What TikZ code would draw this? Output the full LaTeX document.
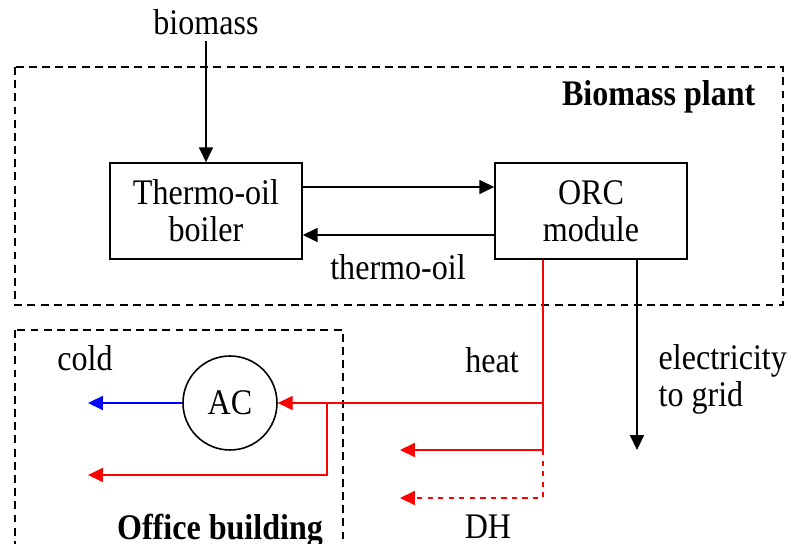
\documentclass[tikz,border=0pt]{standalone}
\usepackage{fontspec}
\setmainfont{Liberation Serif}[FakeStretch=0.89]
\usetikzlibrary{arrows.meta}

\begin{document}
\begin{tikzpicture}[x=0.2mm, y=-0.2mm, >={Triangle[length=8.5pt,width=8pt]}, line width=0.9pt,
  every node/.style={font=\fontsize{20.5}{21}\selectfont},
  unit/.style={draw, minimum width=38.4mm, minimum height=19.2mm, align=center, inner sep=0pt},
  zone/.style={draw, dash pattern=on 4.5pt off 3pt},
  heatline/.style={red, line width=0.8pt}]

\useasboundingbox (0,0) rectangle (790,544);

% system borders
\draw[zone] (15,67) rectangle (783,305);
\draw[zone] (15,330) rectangle (343,620);
\node[font=\fontsize{20.5}{21}\selectfont\bfseries, anchor=east] (plant) at (762,97) {Biomass plant};
\node[font=\fontsize{20.5}{21}\selectfont\bfseries] (office) at (220,531) {Office building};

% biomass plant
\node (bio) at (206,22) {biomass};
\node[unit] (boiler) at (206,211) {Thermo-oil\\boiler};
\node[unit] (orc) at (591,211) {ORC\\module};
\draw[->] (bio) -- (boiler);
\draw[->] ([yshift=4.8mm]boiler.east) -- ([yshift=4.8mm]orc.west);
\draw[->] ([yshift=-4.8mm]orc.west) -- ([yshift=-4.8mm]boiler.east);
\node (oil) at (398,267) {thermo-oil};

% electricity
\coordinate (grid) at (637,450);
\draw[->] (orc.south -| grid) -- (grid);
\node[align=left, anchor=west] (elec) at (652,379) {electricity\\to grid};

% heat distribution
\coordinate (hA) at (543,403);
\coordinate (hB) at (543,450);
\coordinate (hC) at (543,498);
\coordinate (dh1) at (400,450);
\coordinate (dh2) at (400,498);
\coordinate (br) at (327,403);
\coordinate (brd) at (327,475);
\coordinate (ret) at (88,475);
\coordinate (coldend) at (88,403);
\node[draw, circle, minimum size=18.8mm, inner sep=0pt] (ac) at (230,403) {AC};
\draw[heatline] (orc.south -| hA) -- (hB);
\draw[heatline, ->] (hA) -- (ac);
\draw[heatline, ->] (hB) -- (dh1);
\draw[heatline, dashed, ->] (hB) -- (hC) -- (dh2);
\draw[heatline, ->] (br) -- (brd) -- (ret);
\draw[blue, ->] (ac) -- (coldend);
\node (heat) at (492,360) {heat};
\node (cold) at (85,358) {cold};
\node (dh) at (488,527) {DH};

\end{tikzpicture}
\end{document}
